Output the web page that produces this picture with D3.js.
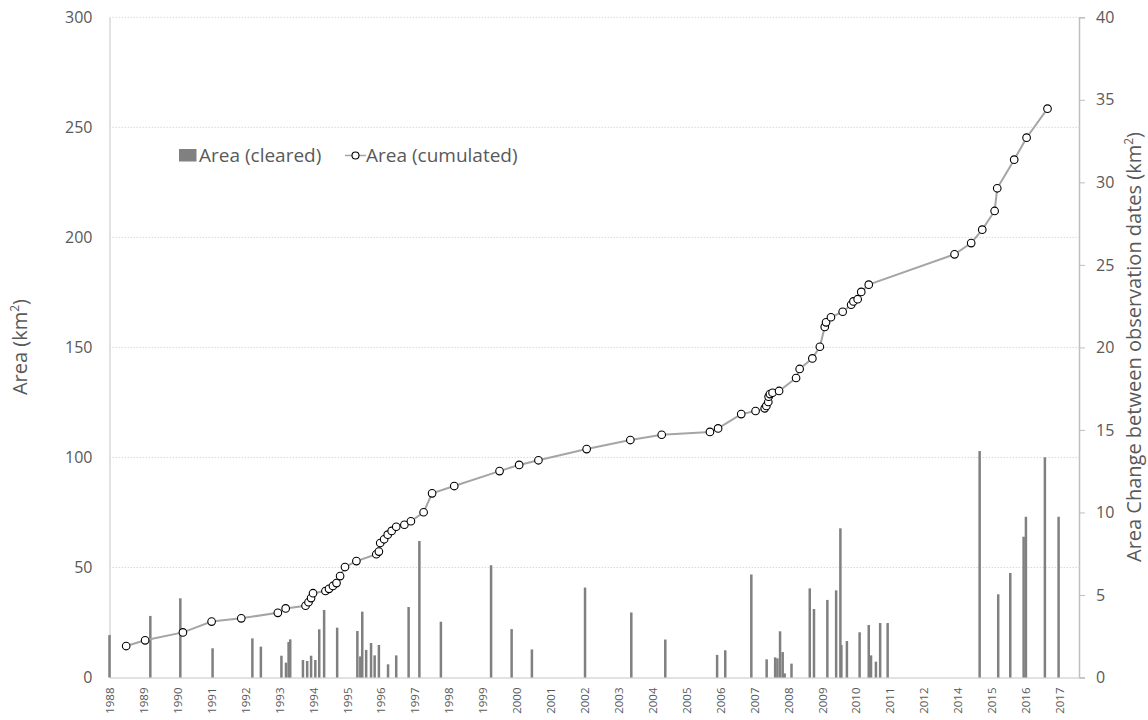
<!DOCTYPE html>
<html lang="en">
<head>
    <meta charset="UTF-8">
    <title>Area cleared and cumulated</title>
    <script src="https://cdn.jsdelivr.net/npm/d3@7"></script>
    <style>
        body { margin: 0; background: #fff; }
        text { font-family: "Open Sans", sans-serif; fill: #595959; }
    </style>
</head>
<body>
    <svg id="svg" width="1148" height="720"></svg>
    <script>
        // cumulated area (km2), observation dates as decimal years
        const cumYears = [1988.51, 1989.09, 1990.25, 1991.13, 1992.04, 1993.16, 1993.40, 1994.01, 1994.10, 1994.18,
            1994.24, 1994.62, 1994.73, 1994.85, 1994.96, 1995.07, 1995.22, 1995.57, 1996.18, 1996.26,
            1996.30, 1996.42, 1996.53, 1996.65, 1996.79, 1997.04, 1997.24, 1997.63, 1997.89, 1998.57,
            1999.96, 2000.56, 2001.15, 2002.63, 2003.97, 2004.93, 2006.41, 2006.66, 2007.37, 2007.81,
            2008.09, 2008.14, 2008.20, 2008.21, 2008.25, 2008.33, 2008.53, 2009.05, 2009.16, 2009.55,
            2009.78, 2009.93, 2009.97, 2010.12, 2010.48, 2010.74, 2010.81, 2010.94, 2011.05, 2011.28,
            2013.91, 2014.42, 2014.76, 2015.14, 2015.22, 2015.74, 2016.12, 2016.76]
        const cumArea = [14.3, 16.9, 20.5, 25.4, 26.9, 29.4, 31.4, 32.6, 34.2, 36.1,
            38.3, 39.3, 40.3, 41.6, 42.9, 46.1, 50.2, 52.9, 56.0, 57.2,
            61.1, 62.8, 64.9, 66.6, 68.5, 69.4, 71.0, 75.1, 83.7, 87.0,
            93.8, 96.6, 98.7, 103.8, 107.9, 110.3, 111.6, 113.2, 119.7, 121.1,
            122.3, 123.4, 125.2, 127.6, 128.8, 129.4, 130.2, 136.1, 140.2, 145.0,
            150.3, 159.3, 161.4, 163.7, 166.2, 169.4, 170.9, 171.9, 175.2, 178.5,
            192.3, 197.4, 203.5, 212.0, 222.3, 235.3, 245.3, 258.5]

        // area cleared between observation dates (km2)
        const barYears = [1988.00, 1989.25, 1990.17, 1991.16, 1992.38, 1992.64, 1993.27, 1993.41, 1993.49, 1993.54,
            1993.93, 1994.06, 1994.18, 1994.31, 1994.43, 1994.58, 1994.98, 1995.60, 1995.69, 1995.75,
            1995.87, 1996.02, 1996.13, 1996.26, 1996.54, 1996.79, 1997.17, 1997.50, 1998.16, 1999.70,
            2000.33, 2000.95, 2002.58, 2004.00, 2005.04, 2006.63, 2006.88, 2007.68, 2008.15, 2008.41,
            2008.48, 2008.56, 2008.64, 2008.70, 2008.91, 2009.47, 2009.60, 2010.01, 2010.28, 2010.41,
            2010.44, 2010.61, 2011.00, 2011.28, 2011.35, 2011.50, 2011.63, 2011.86, 2014.68, 2015.25,
            2015.62, 2016.03, 2016.10, 2016.68, 2017.10]
        const barArea = [2.57, 3.73, 4.80, 1.77, 2.37, 1.87, 1.32, 0.90, 2.15, 2.31,
            1.06, 1.00, 1.32, 1.06, 2.92, 4.09, 3.02, 2.82, 1.28, 3.99,
            1.67, 2.09, 1.34, 1.97, 0.80, 1.34, 4.27, 8.27, 3.38, 6.80,
            2.93, 1.70, 5.45, 3.94, 2.30, 1.37, 1.65, 6.24, 1.10, 1.22,
            1.16, 2.80, 1.54, 0.25, 0.84, 5.40, 4.15, 4.70, 5.28, 9.04,
            1.97, 2.21, 2.74, 3.18, 1.34, 0.96, 3.30, 3.30, 13.72, 5.04,
            6.33, 8.53, 9.74, 13.34, 9.74]

        // x labels sit on a 380 day interval, so 2013 never shows up
        const yearLabels = ["1988", "1989", "1990", "1991", "1992", "1993", "1994", "1995", "1996", "1997",
            "1998", "1999", "2000", "2001", "2002", "2003", "2004", "2005", "2006", "2007",
            "2008", "2009", "2010", "2011", "2012", "2014", "2015", "2016", "2017"]
        const areaTicks = [0, 50, 100, 150, 200, 250, 300]
        const changeTicks = [0, 5, 10, 15, 20, 25, 30, 35, 40]
        const seriesNames = ["Area (cleared)", "Area (cumulated)"]

        const svg = d3.select("#svg")
        const plot = {left: 109.5, right: 1079, top: 17.3, bottom: 677.5}

        const toDate = v => {
            const yr = Math.floor(v)
            const a = new Date(yr, 0, 1), b = new Date(yr + 1, 0, 1)
            return new Date(+a + (v - yr) * (b - a))
        }
        const start = new Date(1988, 0, 1)

        const x = d3.scaleTime()
            .domain([start, d3.timeDay.offset(start, 10858)])
            .range([plot.left, plot.right])
        const y = d3.scaleLinear().domain([0, 300]).range([plot.bottom, plot.top])
        const y2 = d3.scaleLinear().domain([0, 40]).range([plot.bottom, plot.top])

        // gridlines
        svg.append("g").selectAll("line").data(areaTicks.filter(d => d > 0)).join("line")
            .attr("x1", plot.left).attr("x2", plot.right)
            .attr("y1", d => y(d)).attr("y2", d => y(d))
            .attr("stroke", "#d9d9d9").attr("stroke-width", 1)
            .attr("stroke-dasharray", "1.5,1.5")

        // left axis
        const yAxis = d3.axisLeft(y).tickValues(areaTicks).tickSize(0).tickPadding(17)
        const gy = svg.append("g").attr("transform", `translate(${plot.left},0)`).call(yAxis)
        gy.select(".domain").attr("stroke", "#d9d9d9").attr("stroke-width", 1.5)
        gy.selectAll("text").attr("font-size", 16).attr("fill", "#595959")

        // right axis
        const y2Axis = d3.axisRight(y2).tickValues(changeTicks).tickSize(6).tickPadding(11)
        const gy2 = svg.append("g").attr("transform", `translate(${plot.right},0)`).call(y2Axis)
        gy2.select(".domain").attr("stroke", "#bfbfbf").attr("stroke-width", 1.5)
        gy2.selectAll(".tick line").attr("stroke", "#bfbfbf")
        gy2.selectAll("text").attr("font-size", 16).attr("fill", "#595959")

        // bottom axis
        const tickDates = yearLabels.map((d, i) => d3.timeDay.offset(start, 380 * i))
        const xAxis = d3.axisBottom(x).tickValues(tickDates).tickSize(0)
            .tickFormat((d, i) => yearLabels[i])
        const gx = svg.append("g").attr("transform", `translate(0,${plot.bottom})`).call(xAxis)
        gx.select(".domain").attr("stroke", "#d9d9d9").attr("stroke-width", 1.5)
        gx.selectAll("text")
            .attr("font-size", 11.5).attr("fill", "#595959")
            .attr("text-anchor", "end")
            .attr("transform", "rotate(-90)")
            .attr("x", -10).attr("y", 0).attr("dy", "0.35em")

        // bars
        const bars = barYears.map((d, i) => ({date: toDate(d), v: barArea[i]}))
        svg.append("g").selectAll("rect").data(bars).join("rect")
            .attr("x", d => x(d.date) - 1.25)
            .attr("width", 2.5)
            .attr("y", d => y2(d.v))
            .attr("height", d => y2(0) - y2(d.v))
            .attr("fill", "#808080")

        // cumulated line
        const pts = cumYears.map((d, i) => ({date: toDate(d), v: cumArea[i]}))
        svg.append("path").datum(pts)
            .attr("fill", "none").attr("stroke", "#a5a5a5").attr("stroke-width", 2)
            .attr("d", d3.line().x(d => x(d.date)).y(d => y(d.v)))
        svg.append("g").selectAll("circle").data(pts).join("circle")
            .attr("cx", d => x(d.date)).attr("cy", d => y(d.v)).attr("r", 3.8)
            .attr("fill", "#fff").attr("stroke", "#000").attr("stroke-width", 1.1)

        // axis titles
        const t1 = svg.append("text").attr("transform", "translate(27,347) rotate(-90)")
            .attr("text-anchor", "middle").attr("font-size", 20)
        t1.append("tspan").text("Area (km")
        t1.append("tspan").text("2").attr("font-size", 12).attr("baseline-shift", "super")
        t1.append("tspan").text(")")

        const t2 = svg.append("text").attr("transform", "translate(1141,347) rotate(-90)")
            .attr("text-anchor", "middle").attr("font-size", 20)
        t2.append("tspan").text("Area Change between observation dates (km")
        t2.append("tspan").text("2").attr("font-size", 12).attr("baseline-shift", "super")
        t2.append("tspan").text(")")

        // legend
        const lg = svg.append("g")
        lg.append("rect").attr("x", 179).attr("y", 149).attr("width", 17.5).attr("height", 12.5)
            .attr("fill", "#808080")
        lg.append("text").attr("x", 199).attr("y", 162).attr("font-size", 19).text(seriesNames[0])
        lg.append("line").attr("x1", 345).attr("x2", 366).attr("y1", 155.5).attr("y2", 155.5)
            .attr("stroke", "#a5a5a5").attr("stroke-width", 1.5)
        lg.append("circle").attr("cx", 355.5).attr("cy", 155.5).attr("r", 3.5)
            .attr("fill", "#fff").attr("stroke", "#000").attr("stroke-width", 1.1)
        lg.append("text").attr("x", 366).attr("y", 162).attr("font-size", 19).text(seriesNames[1])
    </script>
</body>
</html>
